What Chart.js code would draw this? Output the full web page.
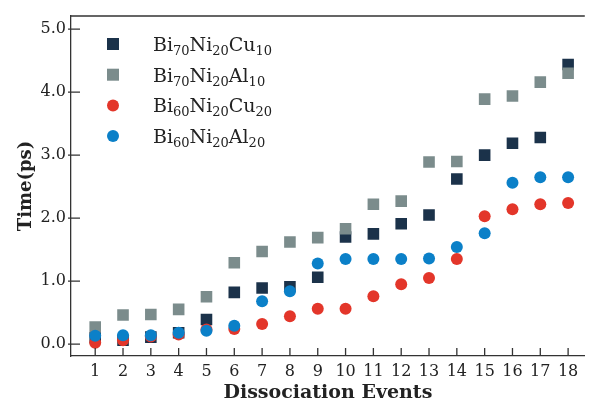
<!DOCTYPE html>
<html>
<head>
<meta charset="utf-8">
<script src="https://cdn.jsdelivr.net/npm/chart.js@4.4.0/dist/chart.umd.min.js"></script>
<style>
  html, body { margin: 0; padding: 0; background: #fff; overflow: hidden; }
  #caja { width: 593px; height: 403px; }
</style>
</head>
<body>
<div id="caja"><canvas id="grafico"></canvas></div>
<script>
// Eventos de disociacion (eje x)
const eventos = [1, 2, 3, 4, 5, 6, 7, 8, 9, 10, 11, 12, 13, 14, 15, 16, 17, 18];
const ticksY = [0, 1, 2, 3, 4, 5];

// Tiempos (ps) por aleacion
const bi70Cu10 = [0.10, 0.06, 0.11, 0.18, 0.39, 0.82, 0.89, 0.91, 1.06, 1.70, 1.75, 1.91, 2.05, 2.62, 3.00, 3.19, 3.28, 4.44];
const bi70Al10 = [0.27, 0.46, 0.47, 0.55, 0.75, 1.29, 1.47, 1.62, 1.69, 1.83, 2.22, 2.27, 2.89, 2.90, 3.89, 3.94, 4.16, 4.30];
const bi60Cu20 = [0.02, 0.06, 0.12, 0.15, 0.23, 0.24, 0.32, 0.44, 0.56, 0.56, 0.76, 0.95, 1.05, 1.35, 2.03, 2.14, 2.22, 2.24];
const bi60Al20 = [0.13, 0.14, 0.14, 0.18, 0.21, 0.29, 0.68, 0.84, 1.28, 1.35, 1.35, 1.35, 1.36, 1.54, 1.76, 2.56, 2.65, 2.65];

const nombres = ['Bi70Ni20Cu10', 'Bi70Ni20Al10', 'Bi60Ni20Cu20', 'Bi60Ni20Al20'];

const serif = "'DejaVu Serif', 'Liberation Serif', serif";
const tinta = '#222';

function puntos(valores) {
    return valores.map((v, i) => ({ x: eventos[i], y: v }));
}

// Leyenda propia para poder escribir los subindices
const leyendaQuimica = {
    id: 'leyendaQuimica',
    afterDraw(chart) {
        const ctx = chart.ctx;
        const x0 = 113, y0 = 44, paso = 30.7;
        chart.data.datasets.forEach((ds, i) => {
            const y = y0 + i * paso;
            ctx.save();
            ctx.fillStyle = ds.backgroundColor;
            if (ds.pointStyle === 'rect') {
                ctx.fillRect(x0 - 6, y - 6, 12, 12);
            } else {
                ctx.beginPath();
                ctx.arc(x0, y, 6, 0, Math.PI * 2);
                ctx.fill();
            }
            // texto con numeros en subindice
            let x = 153;
            ctx.fillStyle = tinta;
            ctx.textBaseline = 'alphabetic';
            ctx.textAlign = 'left';
            const partes = ds.label.match(/[A-Za-z]+|\d+/g);
            partes.forEach(p => {
                const esNumero = /\d/.test(p);
                ctx.font = (esNumero ? '13px ' : '19px ') + serif;
                ctx.fillText(p, x, y + 7 + (esNumero ? 4 : 0));
                x += ctx.measureText(p).width;
            });
            ctx.restore();
        });
    }
};

// Marco superior y marcas hacia dentro
const marco = {
    id: 'marco',
    afterDraw(chart) {
        const ctx = chart.ctx;
        const a = chart.chartArea;
        const sx = chart.scales.x, sy = chart.scales.y;
        ctx.save();
        ctx.strokeStyle = '#333';
        ctx.lineWidth = 1.3;
        ctx.beginPath();
        ctx.moveTo(a.left, a.top);
        ctx.lineTo(a.right, a.top);
        sx.ticks.forEach(t => {
            const px = sx.getPixelForValue(t.value);
            ctx.moveTo(px, a.bottom);
            ctx.lineTo(px, a.bottom - 8);
        });
        sy.ticks.forEach(t => {
            const py = sy.getPixelForValue(t.value);
            ctx.moveTo(a.left - 3, py);
            ctx.lineTo(a.left + 9, py);
        });
        ctx.stroke();
        ctx.restore();
    }
};

const ctx = document.getElementById('grafico').getContext('2d');
new Chart(ctx, {
    type: 'scatter',
    data: {
        datasets: [
            { label: nombres[0], data: puntos(bi70Cu10), backgroundColor: '#1b324a', pointStyle: 'rect', pointRadius: 8.2, borderWidth: 0, order: 4 },
            { label: nombres[1], data: puntos(bi70Al10), backgroundColor: '#7b8c8c', pointStyle: 'rect', pointRadius: 8.2, borderWidth: 0, order: 3 },
            { label: nombres[2], data: puntos(bi60Cu20), backgroundColor: '#e3362a', pointStyle: 'circle', pointRadius: 6, borderWidth: 0, order: 2 },
            { label: nombres[3], data: puntos(bi60Al20), backgroundColor: '#0b80c8', pointStyle: 'circle', pointRadius: 6, borderWidth: 0, order: 1 }
        ]
    },
    options: {
        responsive: true,
        maintainAspectRatio: false,
        animation: false,
        layout: { padding: { top: 16, right: 0, left: 0, bottom: 0 } },
        plugins: {
            legend: { display: false },
            tooltip: { enabled: false }
        },
        scales: {
            x: {
                type: 'linear',
                min: 0.13,
                max: 18.6,
                afterBuildTicks: scale => { scale.ticks = eventos.map(v => ({ value: v })); },
                afterFit: scale => { scale.height = 47; },
                grid: { display: false, drawTicks: false },
                border: { display: true, color: '#333', width: 1.3 },
                ticks: { color: tinta, font: { family: serif, size: 16 }, padding: 6, autoSkip: false, maxRotation: 0 },
                title: { display: true, text: 'Dissociation Events', color: tinta, font: { family: serif, size: 19, weight: 'bold' }, padding: { top: 0, bottom: -1 } }
            },
            y: {
                min: -0.19,
                max: 5.21,
                afterBuildTicks: scale => { scale.ticks = ticksY.map(v => ({ value: v })); },
                afterFit: scale => { scale.width = 71; },
                grid: { display: false, drawTicks: false },
                border: { display: true, color: '#333', width: 1.3 },
                ticks: { color: tinta, font: { family: serif, size: 16 }, padding: 5, callback: v => v.toFixed(1) },
                title: { display: true, text: 'Time(ps)', color: tinta, font: { family: serif, size: 18, weight: 'bold' }, padding: { top: 16, bottom: 0 } }
            }
        }
    },
    plugins: [leyendaQuimica, marco]
});
</script>
</body>
</html>
